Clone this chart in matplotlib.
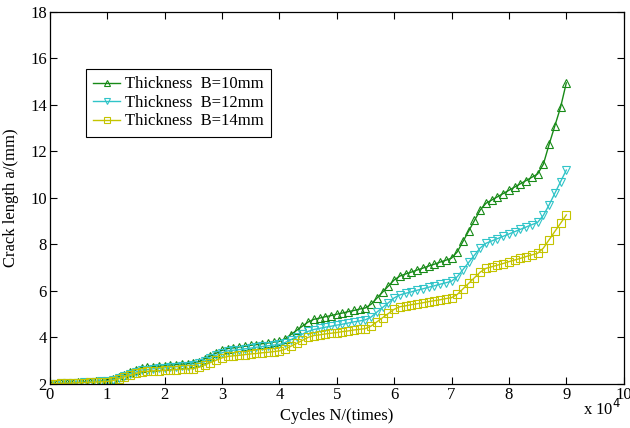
import numpy as np
import matplotlib
matplotlib.use("Agg")
import matplotlib.pyplot as plt

plt.rcParams['font.family'] = ['Liberation Serif', 'DejaVu Serif']

# cycles, in units of 1e4 (step 1000 cycles)
cycles = np.arange(0, 91) / 10.0

# crack length a (mm)
a_b10 = [2.00, 2.01, 2.03, 2.04, 2.06, 2.07, 2.09, 2.10, 2.11, 2.13,
         2.14, 2.20, 2.30, 2.40, 2.50, 2.60, 2.70, 2.72, 2.74, 2.76,
         2.78, 2.81, 2.83, 2.85, 2.87, 2.89, 2.96, 3.08, 3.20, 3.32,
         3.44, 3.52, 3.55, 3.59, 3.62, 3.66, 3.69, 3.73, 3.76, 3.80,
         3.83, 3.94, 4.12, 4.30, 4.48, 4.66, 4.78, 4.83, 4.89, 4.94,
         5.00, 5.05, 5.11, 5.16, 5.22, 5.27, 5.43, 5.69, 5.95, 6.21,
         6.47, 6.64, 6.73, 6.81, 6.90, 6.98, 7.07, 7.15, 7.24, 7.32,
         7.41, 7.68, 8.13, 8.58, 9.03, 9.48, 9.77, 9.91, 10.05, 10.19,
         10.33, 10.47, 10.61, 10.75, 10.89, 11.03, 11.45, 12.30, 13.10, 13.90,
         14.95]
a_b12 = [2.00, 2.01, 2.02, 2.04, 2.05, 2.06, 2.07, 2.09, 2.10, 2.11,
         2.12, 2.17, 2.26, 2.34, 2.43, 2.51, 2.60, 2.62, 2.65, 2.67,
         2.69, 2.72, 2.74, 2.76, 2.79, 2.81, 2.88, 2.99, 3.11, 3.23,
         3.34, 3.42, 3.45, 3.48, 3.51, 3.54, 3.58, 3.61, 3.64, 3.67,
         3.70, 3.78, 3.90, 4.02, 4.14, 4.26, 4.34, 4.39, 4.44, 4.48,
         4.53, 4.57, 4.62, 4.67, 4.71, 4.76, 4.88, 5.09, 5.29, 5.49,
         5.70, 5.83, 5.90, 5.96, 6.03, 6.09, 6.16, 6.22, 6.29, 6.35,
         6.42, 6.61, 6.92, 7.23, 7.54, 7.85, 8.05, 8.15, 8.25, 8.35,
         8.45, 8.55, 8.65, 8.75, 8.85, 8.95, 9.25, 9.70, 10.20, 10.70,
         11.20]
a_b14 = [2.00, 2.01, 2.02, 2.03, 2.04, 2.05, 2.06, 2.07, 2.08, 2.09,
         2.10, 2.14, 2.22, 2.30, 2.37, 2.45, 2.53, 2.54, 2.56, 2.57,
         2.59, 2.60, 2.62, 2.63, 2.65, 2.66, 2.72, 2.82, 2.92, 3.02,
         3.12, 3.18, 3.21, 3.23, 3.26, 3.29, 3.31, 3.34, 3.36, 3.39,
         3.42, 3.49, 3.62, 3.74, 3.87, 4.00, 4.08, 4.11, 4.15, 4.18,
         4.21, 4.25, 4.28, 4.32, 4.35, 4.38, 4.49, 4.67, 4.85, 5.03,
         5.21, 5.32, 5.36, 5.41, 5.45, 5.49, 5.54, 5.58, 5.62, 5.67,
         5.71, 5.85, 6.09, 6.33, 6.57, 6.81, 6.97, 7.04, 7.11, 7.18,
         7.26, 7.33, 7.40, 7.48, 7.55, 7.62, 7.84, 8.20, 8.56, 8.91,
         9.27]

labels = ['Thickness  B=10mm', 'Thickness  B=12mm', 'Thickness  B=14mm']
colors = ['#178a17', '#30c4c8', '#c4c400']
markers = ['^', 'v', 's']

fig = plt.figure(figsize=(6.3, 4.28), dpi=100)
ax = fig.add_axes([0.079, 0.103, 0.911, 0.869])

for a, lab, c, m in zip([a_b10, a_b12, a_b14], labels, colors, markers):
    ax.plot(cycles, a, color=c, lw=1.0, marker=m, ms=5.5, mfc='none',
            mec=c, mew=0.8, label=lab)

ax.set_xlim(0, 10)
ax.set_ylim(2, 18)
ax.set_xticks(range(0, 11))
ax.set_yticks(range(2, 19, 2))
ax.tick_params(direction='in', top=True, right=True, labelsize=12, length=5,
               width=0.8, pad=2)
for s in ax.spines.values():
    s.set_linewidth(0.9)

ax.set_xlabel('Cycles N/(times)', fontsize=12, labelpad=4)
ax.set_ylabel('Crack length a/(mm)', fontsize=12, labelpad=8)
fig.text(0.925, 0.03, r'x 10$^4$', fontsize=12)

leg = ax.legend(loc='upper left', bbox_to_anchor=(0.063, 0.847), fontsize=12,
                fancybox=False, framealpha=1, edgecolor='black',
                borderaxespad=0, handlelength=1.6, handletextpad=0.3,
                borderpad=0.45, labelspacing=0.15, markerscale=0.7)
leg.get_frame().set_linewidth(0.8)

fig.savefig('out.png', dpi=100)
